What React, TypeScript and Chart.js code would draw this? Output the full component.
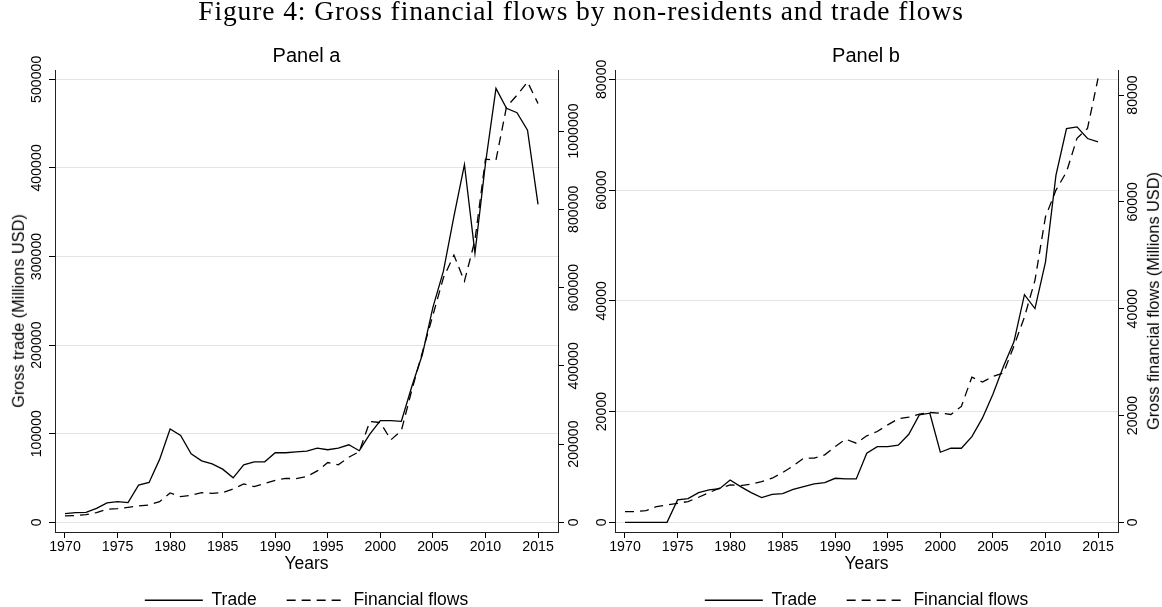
import React, { useEffect, useRef } from "react";
import { Chart, registerables } from "chart.js";

Chart.register(...registerables);

// ---------- data ----------
const years = [
  1970, 1971, 1972, 1973, 1974, 1975, 1976, 1977, 1978, 1979,
  1980, 1981, 1982, 1983, 1984, 1985, 1986, 1987, 1988, 1989,
  1990, 1991, 1992, 1993, 1994, 1995, 1996, 1997, 1998, 1999,
  2000, 2001, 2002, 2003, 2004, 2005, 2006, 2007, 2008, 2009,
  2010, 2011, 2012, 2013, 2014, 2015,
];

// Panel a: trade (left axis), financial flows (right axis), millions USD
const tradeA = [
  9800, 11000, 11300, 15800, 21900, 23400, 22300, 42000, 45000, 71000,
  105300, 98100, 77400, 69400, 66000, 60000, 50200, 64900, 68300, 68300,
  78500, 78500, 79600, 80400, 83800, 81900, 83800, 87500, 80800, 99600,
  114700, 114700, 114000, 153600, 189400, 242600, 283400, 345300, 403800, 303800,
  405000, 489800, 467200, 462300, 442600, 358900,
];
const flowsA = [
  16200, 17000, 19600, 24700, 33200, 34900, 38300, 41700, 44300, 52800,
  74900, 65500, 68900, 75700, 74000, 75700, 85100, 97900, 91100, 99600,
  107200, 112300, 111500, 116800, 131300, 152700, 146700, 166300, 180800, 257600,
  255000, 210700, 234500, 338600, 435000, 529200, 625000, 682800, 616000, 721000,
  928000, 925900, 1061500, 1091400, 1125400, 1070200,
];

// Panel b
const tradeB = [
  0, 0, 0, 0, 0, 4040, 4280, 5360, 5840, 6080,
  7650, 6450, 5360, 4460, 5060, 5180, 5960, 6450, 6930, 7170,
  7950, 7830, 7830, 12470, 13670, 13670, 13920, 15900, 19400, 19700,
  12650, 13370, 13370, 15480, 18800, 23130, 28130, 32600, 41100, 38600,
  47000, 62700, 71100, 71400, 69300, 68700,
];
const flowsB = [
  2000, 2000, 2190, 2940, 3250, 3560, 3880, 4690, 5560, 6380,
  7000, 6880, 7130, 7630, 8250, 9310, 10560, 12000, 12000, 12630,
  14190, 15560, 14810, 16190, 17000, 18250, 19380, 19690, 20250, 20560,
  20440, 20190, 21690, 27190, 26250, 27310, 27940, 33000, 38440, 45300,
  57200, 62200, 65600, 71900, 73750, 83100,
];

const xTicks = [1970, 1975, 1980, 1985, 1990, 1995, 2000, 2005, 2010, 2015];
const ticksALeft = [0, 100000, 200000, 300000, 400000, 500000];
const ticksARight = [0, 200000, 400000, 600000, 800000, 1000000];
const ticksBLeft = [0, 20000, 40000, 60000, 80000];
const ticksBRight = [0, 20000, 40000, 60000, 80000];

const seriesLabels = ["Trade", "Financial flows"];
const figureTitle = "Figure 4: Gross financial flows by non-residents and trade flows";
const panelTitles = ["Panel a", "Panel b"];
const xTitle = "Years";
const leftTitle = "Gross trade (Millions USD)";
const rightTitle = "Gross financial flows (Millions USD)";

// ---------- styling ----------
const SANS = '"Liberation Sans", Arial, Helvetica, sans-serif';
const SERIF = '"Liberation Serif", "Times New Roman", serif';
const TICK_SIZE = 14.2;
const TICK_LEN = 6;
const CANVAS_W = 581;
const CANVAS_H = 619;
const DASH = [9, 6];

function widest(values: number[]): number {
  const ctx = document.createElement("canvas").getContext("2d");
  if (!ctx) return 0;
  ctx.font = `${TICK_SIZE}px ${SANS}`;
  return Math.max(...values.map((v) => ctx.measureText(String(v)).width));
}

function yAxis(
  position: "left" | "right",
  min: number,
  max: number,
  tickValues: number[],
  boxWidth: number,
  labelOffset: number,
  gridOnArea: boolean
) {
  const pad = labelOffset - TICK_LEN - widest(tickValues) / 2;
  return {
    type: "linear",
    position,
    min,
    max,
    bounds: "data",
    afterBuildTicks: (s: any) => {
      s.ticks = tickValues.map((v) => ({ value: v }));
    },
    afterFit: (s: any) => {
      s.width = boxWidth;
    },
    ticks: {
      autoSkip: false,
      minRotation: 90,
      maxRotation: 90,
      crossAlign: "center",
      padding: pad,
      color: "#000",
      font: { family: SANS, size: TICK_SIZE },
      callback: (v: any) => String(v),
    },
    grid: {
      drawOnChartArea: gridOnArea,
      color: "#e4e4e4",
      lineWidth: 1,
      drawTicks: true,
      tickLength: TICK_LEN,
      tickColor: "#000",
      tickWidth: 1,
    },
    border: { display: true, color: "#222", width: 1 },
  };
}

type PanelSpec = {
  trade: number[];
  flows: number[];
  leftMin: number;
  leftMax: number;
  rightMin: number;
  rightMax: number;
  leftTicks: number[];
  rightTicks: number[];
  leftWidth: number;
  rightWidth: number;
  leftOffset: number;
  rightOffset: number;
};

function buildConfig(p: PanelSpec): any {
  return {
    type: "line",
    data: {
      datasets: [
        {
          label: seriesLabels[0],
          data: years.map((yr, i) => ({ x: yr, y: p.trade[i] })),
          yAxisID: "yL",
          borderColor: "#000",
          borderWidth: 1.3,
          pointRadius: 0,
          tension: 0,
          fill: false,
        },
        {
          label: seriesLabels[1],
          data: years.map((yr, i) => ({ x: yr, y: p.flows[i] })),
          yAxisID: "yR",
          borderColor: "#000",
          borderWidth: 1.3,
          borderDash: DASH,
          pointRadius: 0,
          tension: 0,
          fill: false,
        },
      ],
    },
    options: {
      responsive: false,
      animation: false,
      devicePixelRatio: 1,
      events: [],
      layout: { padding: { top: 70, left: 0, right: 0, bottom: 0 } },
      scales: {
        x: {
          type: "linear",
          position: "bottom",
          min: 1969.05,
          max: 2016.9,
          bounds: "data",
          afterBuildTicks: (s: any) => {
            s.ticks = xTicks.map((v) => ({ value: v }));
          },
          afterFit: (s: any) => {
            s.height = 29.5;
          },
          ticks: {
            autoSkip: false,
            minRotation: 0,
            maxRotation: 0,
            padding: 1,
            color: "#000",
            font: { family: SANS, size: TICK_SIZE },
            callback: (v: any) => String(v),
          },
          grid: {
            drawOnChartArea: false,
            drawTicks: true,
            tickLength: TICK_LEN,
            tickColor: "#000",
            tickWidth: 1,
          },
          border: { display: true, color: "#222", width: 1 },
          title: {
            display: true,
            text: xTitle,
            color: "#000",
            font: { family: SANS, size: 17.5 },
            padding: { top: 0, bottom: -13.3 },
          },
        },
        yL: yAxis("left", p.leftMin, p.leftMax, p.leftTicks, p.leftWidth, p.leftOffset, true),
        yR: yAxis("right", p.rightMin, p.rightMax, p.rightTicks, p.rightWidth, p.rightOffset, false),
      },
      plugins: {
        tooltip: { enabled: false },
        title: { display: false },
        legend: {
          display: true,
          position: "bottom",
          fullSize: false,
          align: "center",
          labels: {
            usePointStyle: true,
            pointStyleWidth: 58,
            padding: 30,
            color: "#000",
            font: { family: SANS, size: 17.5 },
            generateLabels: (chart: any) =>
              chart.data.datasets.map((ds: any, i: number) => ({
                text: ds.label,
                datasetIndex: i,
                hidden: false,
                pointStyle: "line",
                fillStyle: "rgba(0,0,0,0)",
                strokeStyle: "#000",
                lineWidth: 1.3,
                lineDash: ds.borderDash || [],
                lineCap: "butt",
                fontColor: "#000",
              })),
          },
        },
      },
    },
  };
}

const panelA: PanelSpec = {
  trade: tradeA,
  flows: flowsA,
  leftMin: -10950,
  leftMax: 510500,
  rightMin: -24800,
  rightMax: 1155900,
  leftTicks: ticksALeft,
  rightTicks: ticksARight,
  leftWidth: 55,
  rightWidth: 23,
  leftOffset: 17.8,
  rightOffset: 15.8,
};

const panelB: PanelSpec = {
  trade: tradeB,
  flows: flowsB,
  leftMin: -1752,
  leftMax: 81680,
  rightMin: -1816,
  rightMax: 84684,
  leftTicks: ticksBLeft,
  rightTicks: ticksBRight,
  leftWidth: 34,
  rightWidth: 44,
  leftOffset: 13.3,
  rightOffset: 14.8,
};

function Panel({ spec, left }: { spec: PanelSpec; left: number }) {
  const ref = useRef<HTMLCanvasElement>(null);
  useEffect(() => {
    if (!ref.current) return;
    const chart = new Chart(ref.current, buildConfig(spec));
    return () => chart.destroy();
  }, [spec]);
  return (
    <canvas
      ref={ref}
      width={CANVAS_W}
      height={CANVAS_H}
      style={{ position: "absolute", left, top: 0, width: CANVAS_W, height: CANVAS_H }}
    />
  );
}

const rotatedStyle = (cx: number, cy: number): React.CSSProperties => ({
  position: "absolute",
  left: cx,
  top: cy,
  transform: "translate(-50%, -50%) rotate(-90deg)",
  fontFamily: SANS,
  fontSize: 16.3,
  lineHeight: "16.3px",
  whiteSpace: "nowrap",
  color: "#000",
});

const panelTitleStyle = (cx: number): React.CSSProperties => ({
  position: "absolute",
  left: cx - 100,
  width: 200,
  top: 45,
  textAlign: "center",
  fontFamily: SANS,
  fontSize: 20,
  lineHeight: "20px",
  whiteSpace: "nowrap",
  color: "#000",
});

export default function App() {
  return (
    <div
      style={{
        position: "fixed",
        left: 0,
        top: 0,
        width: 1162,
        height: 607,
        overflow: "hidden",
        background: "#fff",
      }}
    >
      <Panel spec={panelA} left={0} />
      <Panel spec={panelB} left={581} />
      <div
        style={{
          position: "absolute",
          left: 0,
          width: 1162,
          top: -3,
          textAlign: "center",
          fontFamily: SERIF,
          fontSize: 27.5,
          lineHeight: "27.5px",
          letterSpacing: "0.9px",
          whiteSpace: "nowrap",
          color: "#000",
        }}
      >
        {figureTitle}
      </div>
      <div style={panelTitleStyle(306.5)}>{panelTitles[0]}</div>
      <div style={panelTitleStyle(866)}>{panelTitles[1]}</div>
      <div style={rotatedStyle(18.3, 311)}>{leftTitle}</div>
      <div style={rotatedStyle(1153.3, 301)}>{rightTitle}</div>
    </div>
  );
}
